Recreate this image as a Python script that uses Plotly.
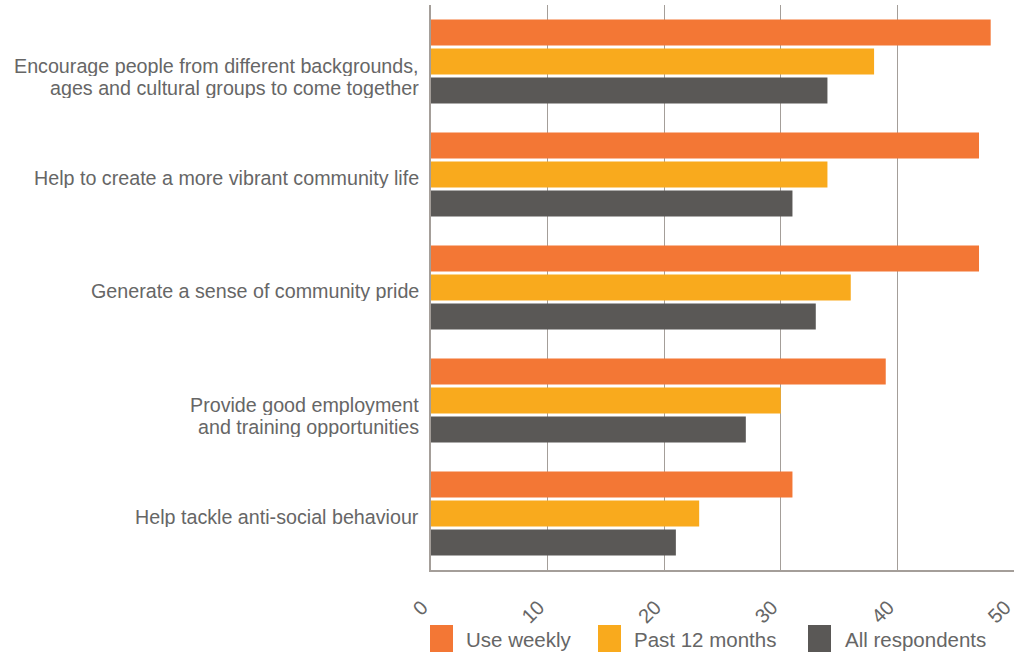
import plotly.graph_objects as go

categories = [
    "Encourage people from different backgrounds,<br>ages and cultural groups to come together",
    "Help to create a more vibrant community life",
    "Generate a sense of community pride",
    "Provide good employment<br>and training opportunities",
    "Help tackle anti-social behaviour",
]
use_weekly = [48, 47, 47, 39, 31]
past_12_months = [38, 34, 36, 30, 23]
all_respondents = [34, 31, 33, 27, 21]
x_ticks = [0, 10, 20, 30, 40, 50]

series = [
    ("Use weekly", use_weekly, "#F37735"),
    ("Past 12 months", past_12_months, "#F9AA1D"),
    ("All respondents", all_respondents, "#5A5856"),
]

font_family = "Liberation Sans, Arial, sans-serif"
text_color = "#666666"

W, H = 1025, 654
ML, MR, MT, MB = 431, 11, 5, 84
PW, PH = W - ML - MR, H - MT - MB

def px_to_paper_x(px):
    return (px - ML) / PW

def px_to_paper_y(py):
    return (H - MB - py) / PH

fig = go.Figure()
for name, vals, color in series:
    fig.add_trace(go.Bar(
        y=categories, x=vals, name=name, orientation="h",
        marker=dict(color=color, line=dict(width=0)),
        showlegend=False,
    ))

# category labels as annotations (line spacing as in the reference)
for cat in categories:
    lines = cat.split("<br>")
    shifts = [-3] if len(lines) == 1 else [-4, -26]
    for line, ys in zip(lines, shifts):
        fig.add_annotation(
            xref="paper", yref="y", x=0, y=cat, xshift=-10, yshift=ys,
            xanchor="right", yanchor="middle", text=line, showarrow=False,
            font=dict(size=19.7, color=text_color), height=21,
        )

# manual legend (large square swatches as in the reference)
legend_items = [(430, 467), (598, 635), (808, 846)]
for (sx, tx), (name, _, color) in zip(legend_items, series):
    fig.add_shape(
        type="rect", xref="paper", yref="paper",
        x0=px_to_paper_x(sx), x1=px_to_paper_x(sx + 23),
        y0=px_to_paper_y(652), y1=px_to_paper_y(625),
        fillcolor=color, line=dict(width=0),
    )
    fig.add_annotation(
        xref="paper", yref="paper", x=px_to_paper_x(tx - 3), y=px_to_paper_y(639),
        xanchor="left", yanchor="middle", text=name, showarrow=False,
        font=dict(size=20.5, color=text_color),
    )

fig.update_layout(
    width=W, height=H,
    margin=dict(l=ML, r=MR, t=MT, b=MB),
    paper_bgcolor="white", plot_bgcolor="white",
    barmode="group", bargap=0.23, bargroupgap=0.1,
    font=dict(family=font_family, color=text_color, size=19),
    showlegend=False,
    xaxis=dict(
        range=[0, 50], tickvals=x_ticks, ticktext=[str(t) for t in x_ticks],
        showgrid=True, gridcolor="#a49e99", gridwidth=1.3,
        showline=True, linecolor="#a49e99", linewidth=1.5,
        zeroline=False, tickangle=-45, ticks="",
        tickfont=dict(size=20, color=text_color),
        ticklabelstandoff=16, ticklabelshift=-9,
        layer="above traces", fixedrange=True, automargin=False,
    ),
    yaxis=dict(
        autorange="reversed", showgrid=False, showline=True,
        linecolor="#a49e99", linewidth=2, ticks="",
        showticklabels=False,
        automargin=False, fixedrange=True,
    ),
)

fig.write_html(
    "out.html",
    config={"displayModeBar": False},
    post_script="document.body.style.margin='0';document.body.style.overflow='hidden';",
)
